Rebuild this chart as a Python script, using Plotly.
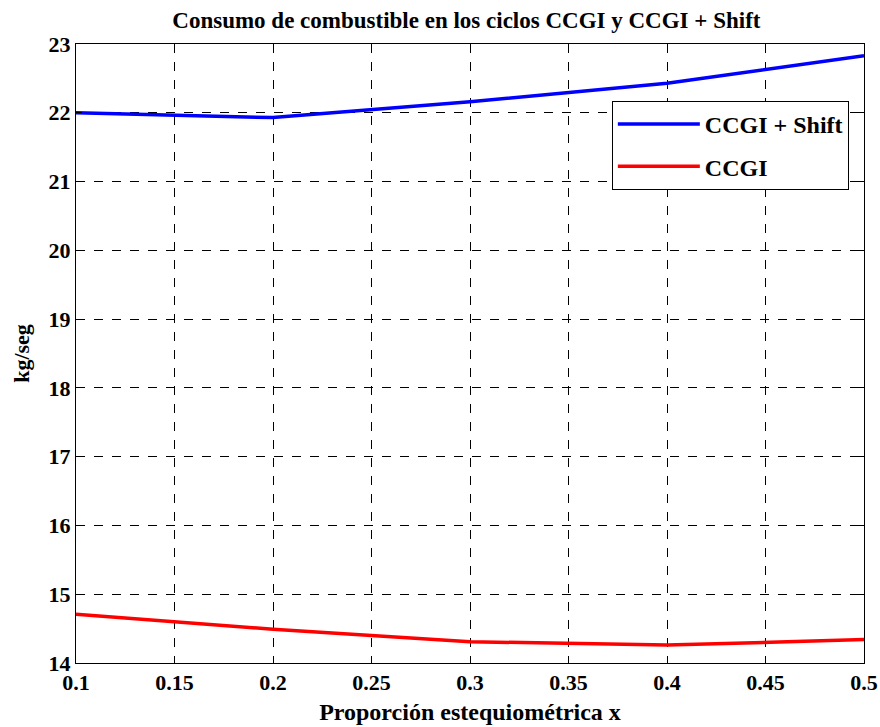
import plotly.graph_objects as go

x_vals = [0.1, 0.2, 0.3, 0.4, 0.5]
ccgi_shift = [22.0, 21.93, 22.16, 22.43, 22.83]
ccgi = [14.71, 14.49, 14.31, 14.26, 14.34]

x_ticks = [0.1, 0.15, 0.2, 0.25, 0.3, 0.35, 0.4, 0.45, 0.5]
x_ticktext = ["0.1", "0.15", "0.2", "0.25", "0.3", "0.35", "0.4", "0.45", "0.5"]
y_ticks = list(range(14, 24))

font_family = "Liberation Serif"

fig = go.Figure()
fig.add_trace(go.Scatter(x=x_vals, y=ccgi_shift, mode="lines", name="<b>CCGI + Shift</b>",
                         legendgroup="a",
                         line=dict(color="#0000ff", width=3.5)))
fig.add_trace(go.Scatter(x=x_vals, y=ccgi, mode="lines", name="<b>CCGI</b>",
                         legendgroup="b",
                         line=dict(color="#ff0000", width=3.5)))

axis_common = dict(
    showline=True, linecolor="black", linewidth=1, mirror="ticks",
    ticks="inside", ticklen=6, tickcolor="black",
    showgrid=True, gridcolor="black", griddash="dash", gridwidth=1,
    zeroline=False, automargin=False,
    tickfont=dict(family=font_family, size=22, color="black", weight="bold"),
)

fig.update_layout(
    width=880, height=727,
    margin=dict(l=76, r=16, t=44, b=64),
    paper_bgcolor="white", plot_bgcolor="white",
    title=dict(text="<b>Consumo de combustible en los ciclos CCGI y CCGI + Shift</b>",
               x=0.53, xanchor="center", y=0.972, yanchor="middle",
               font=dict(family=font_family, size=23, color="black")),
    xaxis=dict(range=[0.1, 0.5], tickvals=x_ticks, ticktext=x_ticktext,
               title=dict(text="<b>Proporción estequiométrica x</b>", standoff=8,
                          font=dict(family=font_family, size=24, color="black")),
               **axis_common),
    yaxis=dict(range=[14, 23], tickvals=y_ticks, dtick=1,
               title=dict(text="<b>kg/seg</b>", standoff=12,
                          font=dict(family=font_family, size=22, color="black")),
               **axis_common),
    legend=dict(x=0.68, y=0.908, xanchor="left", yanchor="top",
                bgcolor="white", bordercolor="black", borderwidth=1,
                font=dict(family=font_family, size=24, color="black"),
                itemwidth=82, tracegroupgap=8),
    showlegend=True,
)

fig.write_html("out.html")
